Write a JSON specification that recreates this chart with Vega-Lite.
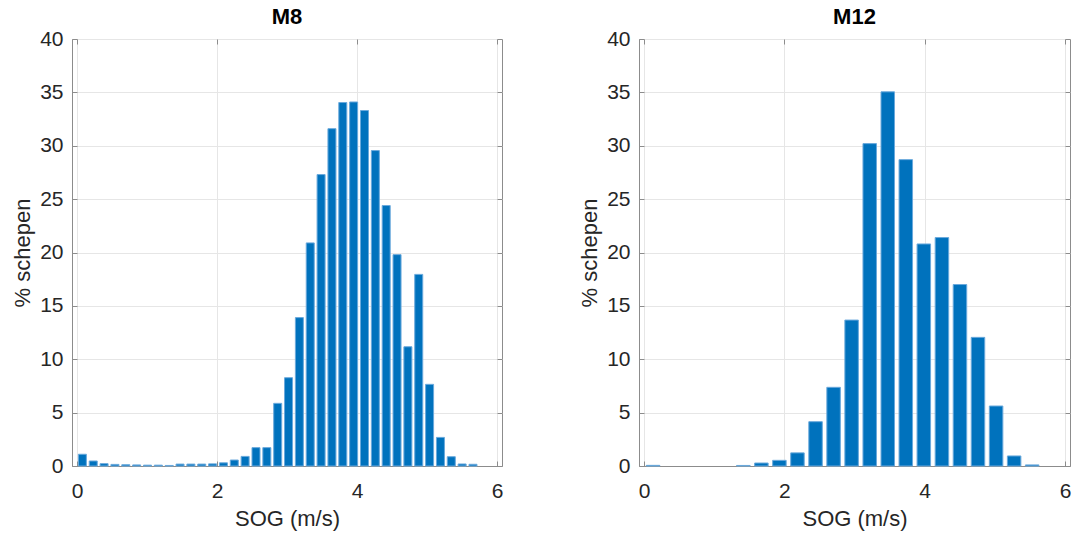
{
  "$schema": "https://vega.github.io/schema/vega-lite/v6.json",
  "background": "white",
  "padding": {"left": 11, "top": 5, "right": 10, "bottom": 5},
  "config": {
    "font": "Liberation Sans",
    "view": {"stroke": "#8c8c8c", "strokeWidth": 1},
    "axis": {
      "domainColor": "#8c8c8c",
      "tickColor": "#8c8c8c",
      "gridColor": "#e6e6e6",
      "labelFont": "Liberation Sans",
      "titleFont": "Liberation Sans",
      "labelFontSize": 21,
      "titleFontSize": 22,
      "titleFontWeight": "normal",
      "labelColor": "#262626",
      "titleColor": "#262626",
      "tickSize": -5
    },
    "title": {"fontSize": 22, "fontWeight": "bold", "color": "#000000", "font": "Liberation Sans", "offset": -1}
  },
  "datasets": {
    "m8": [
      {"sog": 0.077, "pct": 1.1},
      {"sog": 0.232, "pct": 0.47},
      {"sog": 0.387, "pct": 0.22},
      {"sog": 0.542, "pct": 0.15},
      {"sog": 0.697, "pct": 0.12},
      {"sog": 0.852, "pct": 0.1},
      {"sog": 1.007, "pct": 0.08},
      {"sog": 1.162, "pct": 0.08},
      {"sog": 1.317, "pct": 0.05},
      {"sog": 1.472, "pct": 0.18},
      {"sog": 1.627, "pct": 0.18},
      {"sog": 1.782, "pct": 0.18},
      {"sog": 1.937, "pct": 0.2},
      {"sog": 2.092, "pct": 0.3},
      {"sog": 2.247, "pct": 0.56},
      {"sog": 2.402, "pct": 0.9},
      {"sog": 2.557, "pct": 1.72},
      {"sog": 2.712, "pct": 1.72},
      {"sog": 2.867, "pct": 5.87},
      {"sog": 3.022, "pct": 8.27},
      {"sog": 3.177, "pct": 13.9},
      {"sog": 3.332, "pct": 20.9},
      {"sog": 3.487, "pct": 27.3},
      {"sog": 3.642, "pct": 31.6},
      {"sog": 3.797, "pct": 34.05},
      {"sog": 3.952, "pct": 34.1},
      {"sog": 4.107, "pct": 33.3},
      {"sog": 4.262, "pct": 29.55},
      {"sog": 4.417, "pct": 24.4},
      {"sog": 4.572, "pct": 19.8},
      {"sog": 4.727, "pct": 11.17},
      {"sog": 4.882, "pct": 17.95},
      {"sog": 5.037, "pct": 7.65},
      {"sog": 5.192, "pct": 2.68},
      {"sog": 5.347, "pct": 0.87},
      {"sog": 5.502, "pct": 0.19},
      {"sog": 5.657, "pct": 0.16}
    ],
    "m12": [
      {"sog": 0.129, "pct": 0.06},
      {"sog": 1.416, "pct": 0.05},
      {"sog": 1.673, "pct": 0.28},
      {"sog": 1.930, "pct": 0.53},
      {"sog": 2.187, "pct": 1.23},
      {"sog": 2.445, "pct": 4.15},
      {"sog": 2.702, "pct": 7.37},
      {"sog": 2.959, "pct": 13.67},
      {"sog": 3.217, "pct": 30.2},
      {"sog": 3.474, "pct": 35.05},
      {"sog": 3.731, "pct": 28.7},
      {"sog": 3.988, "pct": 20.8},
      {"sog": 4.246, "pct": 21.4},
      {"sog": 4.503, "pct": 17.0},
      {"sog": 4.760, "pct": 12.05},
      {"sog": 5.018, "pct": 5.62},
      {"sog": 5.275, "pct": 0.94},
      {"sog": 5.532, "pct": 0.1}
    ]
  },
  "spacing": 74,
  "hconcat": [
    {
      "width": 430,
      "height": 427,
      "title": "M8",
      "data": {"name": "m8"},
      "layer": [
        {
          "mark": {"type": "bar", "width": 8, "color": "#0072BD", "stroke": "#6aa9dc", "strokeWidth": 1},
          "encoding": {
            "x": {"field": "sog", "type": "quantitative", "scale": {"domain": [0, 6], "nice": false},
                  "axis": {"values": [0, 2, 4, 6], "title": "SOG (m/s)", "labelPadding": 19, "titlePadding": 7}},
            "y": {"field": "pct", "type": "quantitative", "scale": {"domain": [0, 40], "nice": false},
                  "axis": {"values": [0, 5, 10, 15, 20, 25, 30, 35, 40], "title": "% schepen", "labelPadding": 14, "titlePadding": 5}}
          }
        },
        {
          "mark": {"type": "bar", "opacity": 0},
          "encoding": {
            "x": {"field": "sog", "type": "quantitative",
                  "axis": {"orient": "top", "values": [0, 2, 4, 6], "labels": false, "grid": false, "domain": false, "title": null}},
            "y": {"field": "pct", "type": "quantitative",
                  "axis": {"orient": "right", "values": [0, 5, 10, 15, 20, 25, 30, 35, 40], "labels": false, "grid": false, "domain": false, "title": null}}
          }
        }
      ],
      "resolve": {"axis": {"x": "independent", "y": "independent"}}
    },
    {
      "width": 431,
      "height": 427,
      "title": "M12",
      "data": {"name": "m12"},
      "layer": [
        {
          "mark": {"type": "bar", "width": 13.5, "color": "#0072BD", "stroke": "#6aa9dc", "strokeWidth": 1},
          "encoding": {
            "x": {"field": "sog", "type": "quantitative", "scale": {"domain": [0, 6], "nice": false},
                  "axis": {"values": [0, 2, 4, 6], "title": "SOG (m/s)", "labelPadding": 19, "titlePadding": 7}},
            "y": {"field": "pct", "type": "quantitative", "scale": {"domain": [0, 40], "nice": false},
                  "axis": {"values": [0, 5, 10, 15, 20, 25, 30, 35, 40], "title": "% schepen", "labelPadding": 14, "titlePadding": 5}}
          }
        },
        {
          "mark": {"type": "bar", "opacity": 0},
          "encoding": {
            "x": {"field": "sog", "type": "quantitative",
                  "axis": {"orient": "top", "values": [0, 2, 4, 6], "labels": false, "grid": false, "domain": false, "title": null}},
            "y": {"field": "pct", "type": "quantitative",
                  "axis": {"orient": "right", "values": [0, 5, 10, 15, 20, 25, 30, 35, 40], "labels": false, "grid": false, "domain": false, "title": null}}
          }
        }
      ],
      "resolve": {"axis": {"x": "independent", "y": "independent"}}
    }
  ]
}
